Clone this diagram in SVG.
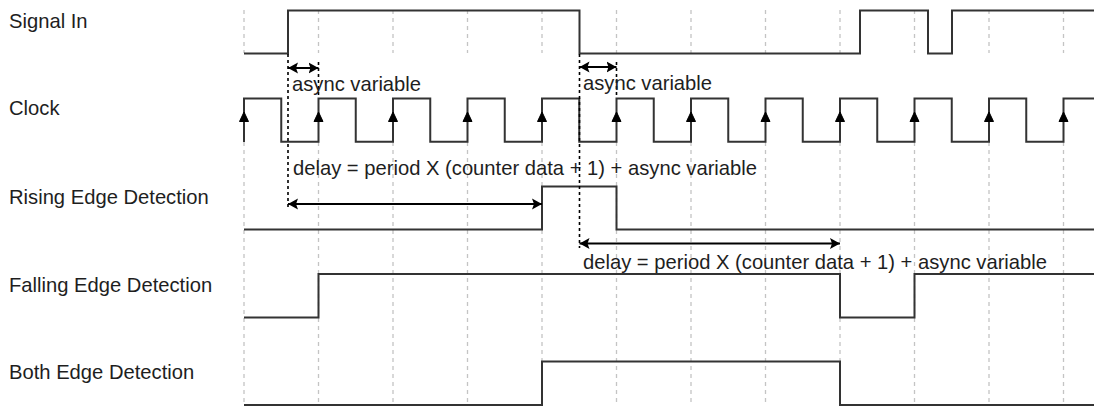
<svg xmlns="http://www.w3.org/2000/svg" width="1094" height="406" viewBox="0 0 1094 406">
<style>
text{font-family:"Liberation Sans",Arial,sans-serif;font-size:20.2px;fill:#1e1e1e}
.grid{stroke:#c4c4c4;stroke-width:1.3;stroke-dasharray:4 4;fill:none}
.sig{stroke:#333;stroke-width:2;fill:none}
.mark{stroke:#000;stroke-width:1.6;stroke-dasharray:3 3;fill:none}
.arr{stroke:#000;stroke-width:2;fill:none;marker-start:url(#ah);marker-end:url(#ah)}
.clk{fill:#000;stroke:#000;stroke-width:1;stroke-linejoin:miter}
</style>
<defs>
<marker id="ah" viewBox="0 0 10 12" refX="10" refY="6" markerWidth="10" markerHeight="12" markerUnits="userSpaceOnUse" orient="auto-start-reverse">
<path d="M10,6 L0,0.5 L2,6 L0,11.5 z" fill="#000"/>
</marker>
</defs>
<rect width="1094" height="406" fill="#fff"/>
<g id="grid">
<path class="grid" d="M244,10V53M318.5,10V53M393,10V53M467.5,10V53M542,10V53M616.5,10V53M691,10V53M765.5,10V53M840,10V53M914.5,10V53M989,10V53M1063.5,10V53"/>
<path class="grid" d="M244,142V406M318.5,142V406M393,142V406M467.5,142V406M542,142V406M616.5,142V406M691,142V406M765.5,142V406M840,142V406M914.5,142V406M989,142V406M1063.5,142V406"/>
</g>
<g id="signal-in">
<text x="9" y="28">Signal In</text>
<path class="sig" d="M244,53.5H288V10.5H579.5V53.5H860V10.5H928V53.5H952V10.5H1094"/>
</g>
<g id="clock">
<text x="9" y="115">Clock</text>
<path class="sig" d="M244,142V98.5H281.25V141.7H318.5V98.5H355.75V141.7H393V98.5H430.25V141.7H467.5V98.5H504.75V141.7H542V98.5H579.25V141.7H616.5V98.5H653.75V141.7H691V98.5H728.25V141.7H765.5V98.5H802.75V141.7H840V98.5H877.25V141.7H914.5V98.5H951.75V141.7H989V98.5H1026.25V141.7H1063.5V98.5H1094"/>
<path class="clk" d="M244,112l4.5,9.5h-9zM318.5,112l4.5,9.5h-9zM393,112l4.5,9.5h-9zM467.5,112l4.5,9.5h-9zM542,112l4.5,9.5h-9zM616.5,112l4.5,9.5h-9zM691,112l4.5,9.5h-9zM765.5,112l4.5,9.5h-9zM840,112l4.5,9.5h-9zM914.5,112l4.5,9.5h-9zM989,112l4.5,9.5h-9zM1063.5,112l4.5,9.5h-9z"/>
</g>
<g id="rising-edge">
<text x="9" y="204">Rising Edge Detection</text>
<path class="sig" d="M244,229.5H542V186.5H616.5V229.5H1094"/>
</g>
<g id="falling-edge">
<text x="9" y="291.5">Falling Edge Detection</text>
<path class="sig" d="M244,317.5H318.5V274H840V317.5H914.5V274H1094"/>
</g>
<g id="both-edge">
<text x="9" y="379">Both Edge Detection</text>
<path class="sig" d="M244,405H542V361.5H840V405H1094"/>
</g>
<g id="connectors">
<path class="mark" d="M288,54V208"/>
<path class="mark" d="M579.5,54V248"/>
<path class="mark" d="M318.5,62V98"/>
<path class="mark" d="M616.5,62V98"/>
<path class="arr" d="M288,68H318.5"/>
<path class="arr" d="M579.5,67H616.5"/>
<path class="arr" d="M288,204H542"/>
<path class="arr" d="M579.5,243.5H840"/>
<text x="292" y="91">async variable</text>
<text x="583" y="90">async variable</text>
<text x="293" y="175">delay = period X (counter data + 1) + async variable</text>
<text x="583" y="269">delay = period X (counter data + 1) + async variable</text>
</g>
</svg>
